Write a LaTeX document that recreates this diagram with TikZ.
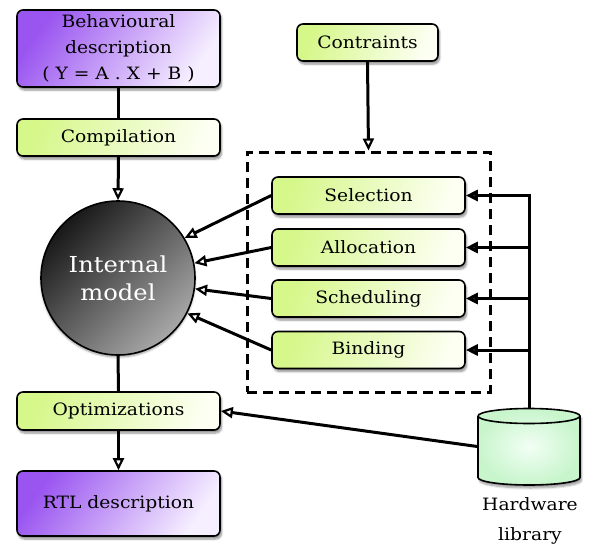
\documentclass[tikz,border=0pt]{standalone}
\usepackage{fontspec}
\setmainfont{DejaVu Serif}[FakeStretch=1.1]
\usetikzlibrary{arrows.meta,shapes.geometric,shadows,shadows.blur}
\definecolor{purpA}{HTML}{9A55F0}
\definecolor{purpB}{HTML}{F6EFFF}
\definecolor{greenA}{HTML}{D6F78A}
\definecolor{greenB}{HTML}{FCFFF2}
\definecolor{circA}{HTML}{181818}
\definecolor{circB}{HTML}{A8A8A8}
\definecolor{cylA}{HTML}{C8F5CC}
\definecolor{cylB}{HTML}{F2FFF4}
\tikzset{
  x=1pt, y=-1pt,
  box/.style={draw=black, line width=1.6pt, rounded corners=6pt, inner sep=0pt,
    blur shadow={shadow xshift=1.5pt, shadow yshift=-3pt, shadow blur steps=6, shadow opacity=45},
    font=\fontsize{17}{26}\selectfont, align=center},
  purplebox/.style={box, top color=purpA, bottom color=purpB, shading angle=55},
  greenbox/.style={box, top color=greenA, bottom color=greenB, shading angle=70},
  conn/.style={line width=3pt},
  openarrow/.style={conn, -{Triangle[open, length=12pt, width=11pt, line width=2.2pt]}},
  fullarrow/.style={conn, -{Triangle[length=12pt, width=11pt]}},
}
\begin{document}
\begin{tikzpicture}
\useasboundingbox (0,0) rectangle (595,557);

\node[purplebox, minimum width=203pt, minimum height=77pt] (beh) at (118.5,48.5)
  {Behavioural\\description\\( Y = A . X + B )};
\node[greenbox, minimum width=203pt, minimum height=37pt] (comp) at (118.5,137.5) {Compilation};
\node[circle, draw=black, line width=1.6pt, minimum size=154pt, inner sep=0pt,
  top color=circA, bottom color=circB, shading angle=45,
  blur shadow={shadow xshift=0pt, shadow yshift=-2pt, shadow blur steps=6, shadow opacity=40},
  text=white, font=\fontsize{22}{28}\selectfont, align=center] (im) at (118,278) {Internal\\model};
\node[greenbox, minimum width=203pt, minimum height=38pt] (opt) at (118.5,411) {Optimizations};
\node[purplebox, minimum width=203pt, minimum height=65pt] (rtl) at (118.5,503.5) {RTL description};

\node[greenbox, minimum width=141pt, minimum height=37pt] (con) at (367.5,42.5) {Contraints};
\node[draw=black, line width=3pt, dash pattern=on 10pt off 6pt, minimum width=243pt,
  minimum height=240pt, inner sep=0pt] (dash) at (368.5,272) {};

\node[greenbox, minimum width=193pt, minimum height=37pt] (sel) at (368.5,195.5) {Selection};
\node[greenbox, minimum width=193pt, minimum height=37pt] (all) at (368.5,247.5) {Allocation};
\node[greenbox, minimum width=193pt, minimum height=37pt] (sch) at (368.5,298.5) {Scheduling};
\node[greenbox, minimum width=193pt, minimum height=37pt] (bin) at (368.5,350) {Binding};

% hardware library cylinder
\node[minimum width=103pt, minimum height=77pt, inner sep=0pt] (hw) at (529,446.5) {};
\path[inner color=cylB, outer color=cylA,
  blur shadow={shadow xshift=1.5pt, shadow yshift=-3pt, shadow blur steps=6, shadow opacity=40}]
  (478,416) -- (478,477.5) arc[start angle=180, end angle=360, x radius=51pt, y radius=7.5pt]
  -- (580,416) arc[start angle=0, end angle=180, x radius=51pt, y radius=7.5pt] -- cycle;
\draw[line width=1.6pt]
  (478,416) -- (478,477.5) arc[start angle=180, end angle=360, x radius=51pt, y radius=7.5pt]
  -- (580,416) arc[start angle=0, end angle=180, x radius=51pt, y radius=7.5pt];
\draw[line width=1.6pt] (478,416) arc[start angle=180, end angle=360, x radius=51pt, y radius=7.5pt];
\node[font=\fontsize{17}{30}\selectfont, align=center] (hwl) at (530,521) {Hardware\\library};

\draw[conn] (beh.south) -- (comp.north);
\draw[openarrow] (comp.south) -- (im.north);
\draw[conn] (im.south) -- (opt.north);
\draw[openarrow] (opt.south) -- (rtl.north);
\draw[openarrow] (con.south) -- (dash.north);

\draw[openarrow] (sel.west) -- (im.31);
\draw[openarrow] (all.west) -- (im.11);
\draw[openarrow] (sch.west) -- (im.-8);
\draw[openarrow] (bin.west) -- (im.-27);

\draw[fullarrow] (hw.north) |- (sel.east);
\draw[fullarrow] (hw.north |- all.east) -- (all.east);
\draw[fullarrow] (hw.north |- sch.east) -- (sch.east);
\draw[fullarrow] (hw.north |- bin.east) -- (bin.east);

\draw[openarrow] (hw.west) -- (opt.east);
\end{tikzpicture}
\end{document}
